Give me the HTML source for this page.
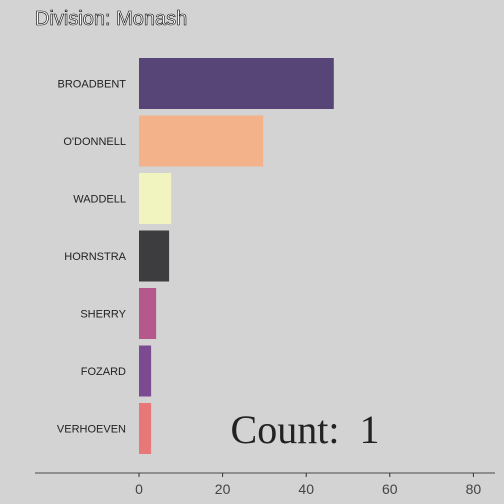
<!DOCTYPE html>
<html><head><meta charset="utf-8"><style>
body{margin:0;background:#d3d3d3;}
svg{display:block;font-family:"Liberation Sans",sans-serif;}
</style></head><body>
<svg id="chart" width="504" height="504">
<rect width="504" height="504" fill="#d3d3d3"/>
<text x="35" y="25" font-size="20" fill="#fff" stroke="#000" stroke-width="0.6">Division: Monash</text>
<g id="bars"></g>
<line x1="35" x2="495" y1="473" y2="473" stroke="#777" stroke-width="1.5"/>
<g id="ticks"></g>
<text x="305" y="443" font-size="40" text-anchor="middle" font-family="Liberation Serif,serif" fill="#222" style="white-space:pre" xml:space="preserve">Count:  1</text>
</svg>
<script>
const categories=["BROADBENT","O'DONNELL","WADDELL","HORNSTRA","SHERRY","FOZARD","VERHOEVEN"];
const values=[46.6,29.7,7.7,7.2,4.1,2.9,2.9];
const colors=["#574577","#f3b28a","#f1f4bf","#3d3c3f","#b5588c","#7c4a91","#e87878"];
const ticks=[0,20,40,60,80];
const NS="http://www.w3.org/2000/svg";
const x=v=>139+v*4.18;
const yc=i=>83.5+i*57.5;
const bars=document.getElementById('bars'),tk=document.getElementById('ticks');
categories.forEach((c,i)=>{
 const r=document.createElementNS(NS,'rect');
 r.setAttribute('x',x(0));r.setAttribute('y',yc(i)-25.5);
 r.setAttribute('width',x(values[i])-x(0));r.setAttribute('height',51);
 r.setAttribute('fill',colors[i]);
 
 
 bars.appendChild(r);
 const t=document.createElementNS(NS,'text');
 t.setAttribute('x',126);t.setAttribute('y',yc(i)+4);
 t.setAttribute('text-anchor','end');t.setAttribute('font-size','11');t.setAttribute('fill','#222');
 t.textContent=c;
 
 
 bars.appendChild(t);
});
ticks.forEach(v=>{
 const l=document.createElementNS(NS,'line');
 l.setAttribute('x1',x(v));l.setAttribute('x2',x(v));l.setAttribute('y1',473);l.setAttribute('y2',477);
 l.setAttribute('stroke','#333');
 
 
 tk.appendChild(l);
 const t=document.createElementNS(NS,'text');
 t.setAttribute('x',x(v));t.setAttribute('y',494);t.setAttribute('text-anchor','middle');
 t.setAttribute('font-size','14');t.setAttribute('fill','#444');
 t.textContent=v;
 
 
 tk.appendChild(t);
});
</script>
</body></html>
